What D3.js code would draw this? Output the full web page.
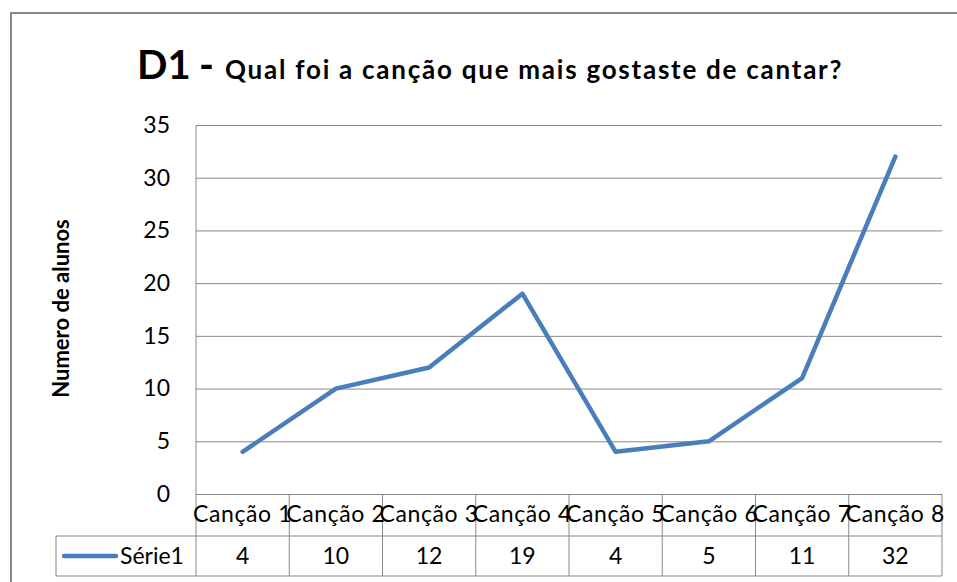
<!DOCTYPE html>
<html>

<head>
    <style>
    body { margin: 0; background: #fff; }
    text { font-family: Lato, "Noto Sans", sans-serif; fill: #000; }
    </style>
</head>

<body>
    <svg width="957" height="582"></svg>
    <script src="https://d3js.org/d3.v7.min.js"></script>
    <script>

        var categories = ["Canção 1", "Canção 2", "Canção 3", "Canção 4", "Canção 5", "Canção 6", "Canção 7", "Canção 8"];
        var values = [4, 10, 12, 19, 4, 5, 11, 32];
        var yTicks = [0, 5, 10, 15, 20, 25, 30, 35];
        var seriesName = "Série1";

        var svg = d3.select("svg"),
            plot = { left: 196, right: 942, top: 125, bottom: 494 },
            rowH = [42, 40],
            legendLeft = 56,
            grey = "#888",
            blue = "#4a7ebb";

        // chart border, cut off by the window on the right and bottom
        svg.append("rect")
            .attr("x", 11).attr("y", 13)
            .attr("width", 1000).attr("height", 700)
            .attr("fill", "none").attr("stroke", grey).attr("stroke-width", 2);

        var title = svg.append("text")
            .attr("x", 137).attr("y", 79)
            .attr("font-weight", "bold");
        title.append("tspan").attr("font-size", 40).text("D1");
        title.append("tspan").attr("x", 199).attr("font-size", 40).text("-");
        title.append("tspan").attr("x", 225).attr("font-size", 26)
            .attr("letter-spacing", 1.75)
            .text("Qual foi a canção que mais gostaste de cantar?");

        var x = d3.scaleBand()
            .domain(categories)
            .range([plot.left, plot.right]);

        var y = d3.scaleLinear()
            .domain([0, 35])
            .range([plot.bottom, plot.top]);

        // gridlines + tick labels
        var yAxis = svg.append("g")
            .attr("transform", "translate(" + plot.left + ",0)")
            .call(d3.axisLeft(y).tickValues(yTicks).tickSize(-(plot.right - plot.left)).tickPadding(26));
        yAxis.select(".domain").remove();
        yAxis.selectAll("line").attr("stroke", grey);
        yAxis.selectAll("text")
            .attr("font-size", 23)
            .attr("font-family", "Lato, sans-serif")
            .attr("fill", "#000");

        // plot left edge
        svg.append("line")
            .attr("x1", plot.left).attr("x2", plot.left)
            .attr("y1", plot.top).attr("y2", plot.bottom + rowH[0] + rowH[1])
            .attr("stroke", grey);

        svg.append("text")
            .attr("transform", "translate(69," + ((plot.top + plot.bottom) / 2 - 1) + ") rotate(-90)")
            .attr("text-anchor", "middle")
            .attr("font-weight", "bold")
            .attr("font-size", 22)
            .text("Numero de alunos");

        var line = d3.line()
            .x(function (d, i) { return x(categories[i]) + x.bandwidth() / 2; })
            .y(function (d) { return y(d); });

        svg.append("path")
            .datum(values)
            .attr("fill", "none")
            .attr("stroke", blue)
            .attr("stroke-width", 4.5)
            .attr("stroke-linejoin", "round")
            .attr("stroke-linecap", "round")
            .attr("d", line);

        // data table
        var r1 = plot.bottom + rowH[0], r2 = r1 + rowH[1];
        var table = svg.append("g").attr("stroke", grey).attr("stroke-width", 1);
        table.append("line").attr("x1", legendLeft).attr("x2", plot.right).attr("y1", r1).attr("y2", r1);
        table.append("line").attr("x1", legendLeft).attr("x2", plot.right).attr("y1", r2).attr("y2", r2);
        table.append("line").attr("x1", legendLeft).attr("x2", legendLeft).attr("y1", r1).attr("y2", r2);
        table.selectAll(".col")
            .data(categories)
            .enter().append("line")
            .attr("x1", function (d) { return x(d) + x.bandwidth(); })
            .attr("x2", function (d) { return x(d) + x.bandwidth(); })
            .attr("y1", plot.bottom).attr("y2", r2);

        svg.selectAll(".cat")
            .data(categories)
            .enter().append("text")
            .attr("x", function (d) { return x(d) + x.bandwidth() / 2; })
            .attr("y", plot.bottom + 28)
            .attr("text-anchor", "middle")
            .attr("font-size", 23)
            .attr("letter-spacing", 0.6)
            .text(function (d) { return d; });

        svg.selectAll(".val")
            .data(values)
            .enter().append("text")
            .attr("x", function (d, i) { return x(categories[i]) + x.bandwidth() / 2; })
            .attr("y", r1 + 28)
            .attr("text-anchor", "middle")
            .attr("font-size", 23)
            .text(function (d) { return d; });

        // legend key
        svg.append("line")
            .attr("x1", 64).attr("x2", 116)
            .attr("y1", r1 + 20).attr("y2", r1 + 20)
            .attr("stroke", blue).attr("stroke-width", 4.5).attr("stroke-linecap", "round");
        svg.append("text")
            .attr("x", 120).attr("y", r1 + 28)
            .attr("font-size", 23)
            .text(seriesName);

    </script>
</body>

</html>
